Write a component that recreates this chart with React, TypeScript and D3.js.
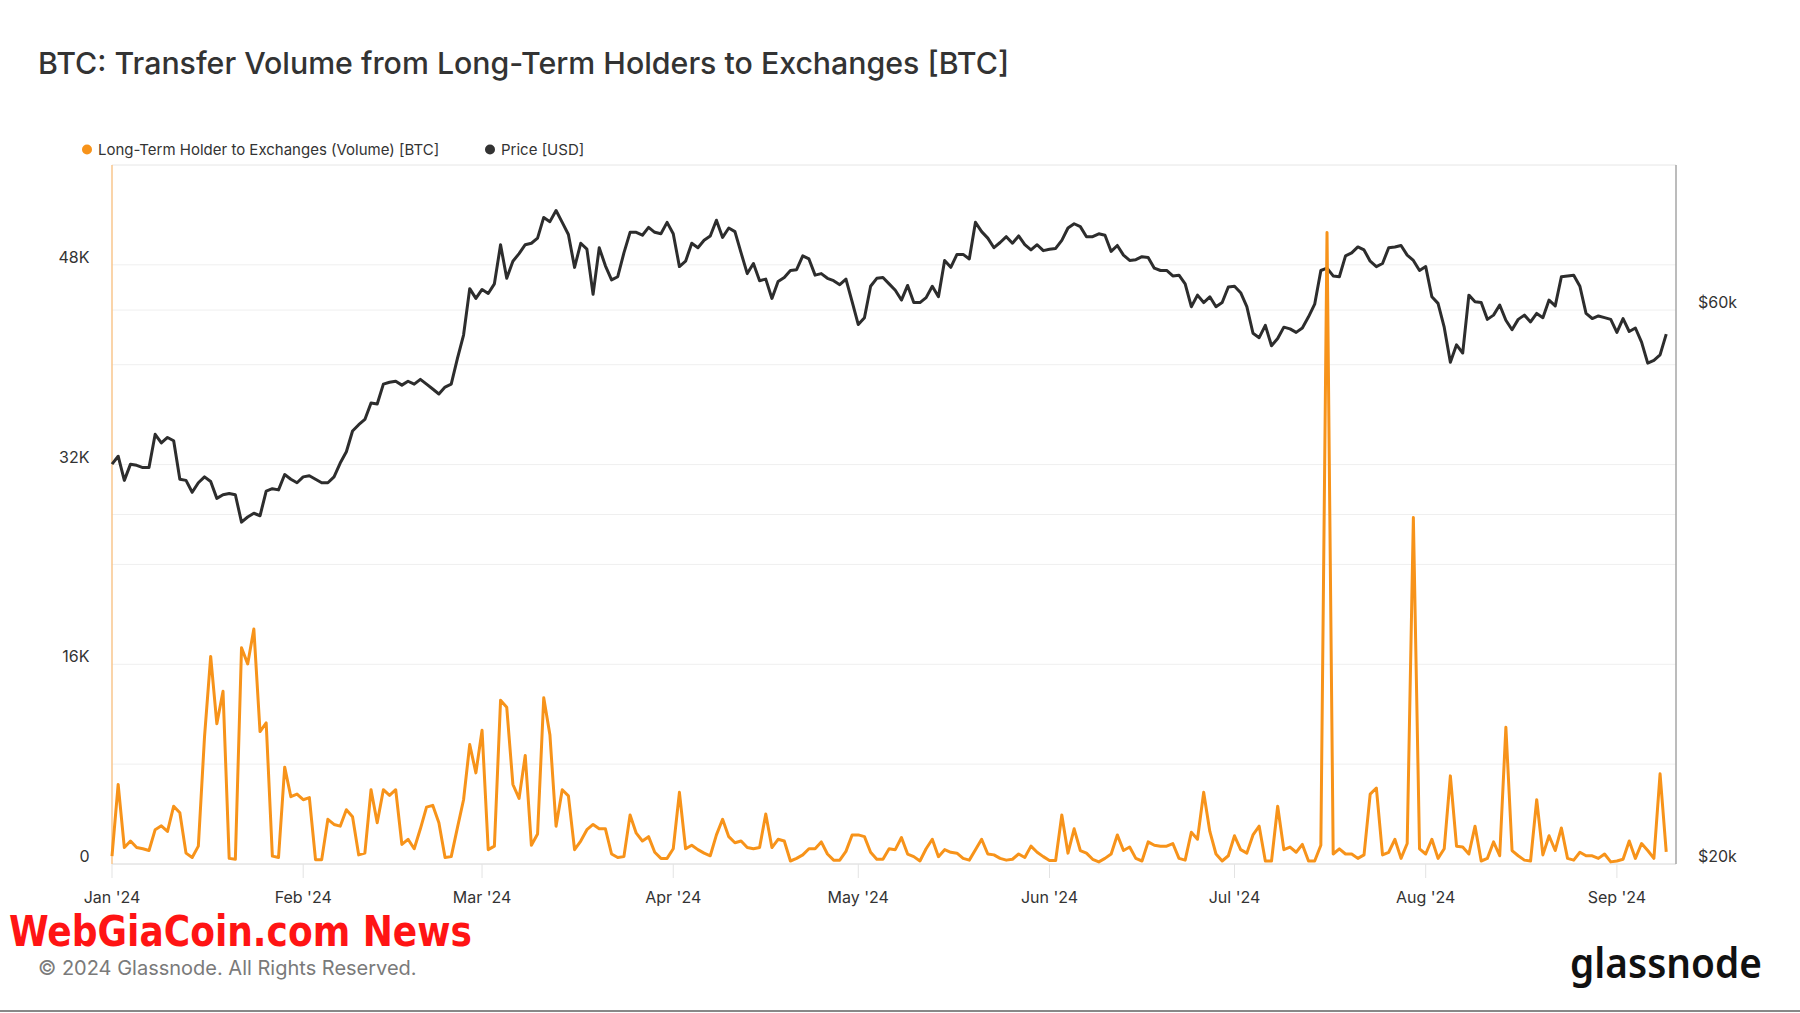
import React from "react";
import * as d3 from "d3";

// daily series, starting 2024-01-01
const startDate = Date.UTC(2024, 0, 1);

const volumeBTC = [
  630, 6370, 1320, 1840, 1320, 1220, 1080, 2750, 3060, 2610,
  4630, 4100, 870, 520, 1430, 10190, 16630, 11230, 13840, 450,
  380, 17320, 16030, 18820, 10610, 11300, 630, 520, 7760, 5390,
  5600, 5150, 5320, 350, 350, 3580, 3170, 3030, 4350, 3790,
  730, 870, 5950, 3300, 5950, 5500, 5950, 1570, 1980, 1220,
  2820, 4560, 4700, 3300, 520, 590, 2890, 5150, 9570, 7300,
  10710, 1150, 1430, 13110, 12560, 6370, 5250, 8700, 1500, 2400,
  13320, 10360, 3030, 5950, 5460, 1150, 1840, 2750, 3170, 2820,
  2820, 800, 520, 590, 3930, 2470, 1840, 2190, 940, 450,
  450, 1220, 5740, 1220, 1500, 1150, 870, 660, 2330, 3580,
  2190, 1700, 1840, 1320, 1220, 1320, 4000, 1320, 1980, 1840,
  240, 450, 730, 1220, 1220, 1770, 800, 310, 310, 1010,
  2330, 2330, 2190, 940, 380, 380, 1220, 1150, 2120, 800,
  590, 240, 1220, 1980, 590, 1150, 940, 870, 450, 310,
  1150, 1980, 800, 730, 450, 310, 380, 800, 520, 1430,
  940, 590, 280, 280, 3930, 870, 2820, 1080, 870, 380,
  170, 450, 800, 2330, 1080, 1360, 450, 240, 1770, 1500,
  1430, 1430, 1640, 450, 310, 2540, 1980, 5740, 2610, 800,
  240, 660, 2260, 1150, 870, 2330, 3030, 240, 240, 4630,
  1150, 1360, 940, 1570, 240, 240, 1500, 50600, 800, 1220,
  800, 800, 450, 730, 5600, 6090, 730, 940, 1980, 450,
  1640, 27750, 1220, 800, 1980, 450, 1220, 7060, 1430, 1360,
  800, 3030, 240, 450, 1770, 660, 10950, 1080, 660, 310,
  240, 5150, 730, 2260, 1080, 2890, 450, 310, 940, 660,
  660, 450, 800, 170, 240, 380, 1840, 450, 1640, 1080,
  450, 7230, 970,
];

const priceUSD = [
  44200, 44900, 42800, 44200, 44100, 43900, 43900, 46900, 46100, 46600,
  46300, 42900, 42800, 41800, 42600, 43100, 42700, 41300, 41600, 41700,
  41600, 39400, 39800, 40100, 39900, 41900, 42100, 42000, 43300, 42900,
  42600, 43100, 43200, 42900, 42600, 42600, 43100, 44300, 45300, 47200,
  47800, 48300, 49900, 49800, 51800, 52000, 52100, 51700, 52100, 51800,
  52300, 51800, 51300, 50800, 51500, 51800, 54500, 57100, 62600, 61400,
  62500, 62000, 63200, 68300, 63900, 66100, 67100, 68300, 68500, 69200,
  72100, 71500, 73100, 71400, 69700, 65300, 68500, 67700, 61900, 67900,
  65500, 63700, 64100, 67200, 70000, 70000, 69600, 70700, 70000, 69800,
  71400, 69800, 65400, 66100, 68500, 67900, 68900, 69500, 71700, 69300,
  70600, 70100, 67200, 64500, 65800, 63600, 63800, 61400, 63500, 64000,
  64900, 65000, 66800, 66400, 64300, 64500, 63900, 63600, 63100, 63800,
  61000, 58300, 59100, 62900, 63900, 64000, 63200, 62400, 61200, 63000,
  60900, 60900, 61500, 62900, 61600, 66200, 65300, 67000, 67000, 66400,
  71400, 70100, 69200, 67900, 68600, 69400, 68500, 69500, 68300, 67600,
  68300, 67500, 67700, 67800, 68900, 70600, 71200, 70800, 69400, 69400,
  69800, 69600, 67400, 68200, 66900, 66200, 66300, 66700, 66600, 65200,
  64900, 64900, 64200, 64300, 63200, 60400, 61800, 60900, 61600, 60400,
  60900, 62800, 62900, 62100, 60400, 57300, 56800, 58200, 55900, 56700,
  58000, 57800, 57400, 57900, 59200, 60700, 64900, 65200, 64200, 64100,
  66800, 67200, 68000, 67600, 66100, 65400, 65800, 67900, 68000, 68200,
  66900, 66200, 64900, 65400, 61600, 60800, 58000, 54100, 56000, 55100,
  61800, 61000, 60900, 58900, 59400, 60600, 58800, 57700, 58900, 59400,
  58600, 59600, 59100, 61200, 60500, 64100, 64200, 64300, 62900, 59600,
  59000, 59300, 59100, 58900, 57400, 59000, 57500, 57900, 56300, 54000,
  54300, 54900, 57200,
];

const volumeGrid = [8000, 16000, 24000, 32000, 40000, 48000];
const volumeLabels = [0, 16000, 32000, 48000];
const priceGrid = [40000, 60000];
const priceLabels = [20000, 60000];

const FONT = "Inter, 'Noto Sans', sans-serif";

export default function App() {
  const W = 1800;
  const H = 1013;
  const left = 112;
  const right = 1676;
  const top = 165;
  const bottom = 864;

  const dates = volumeBTC.map((_, i) => new Date(startDate + i * 86400000));

  const x = d3
    .scaleUtc()
    .domain([new Date(startDate), new Date(Date.UTC(2024, 8, 10, 14))])
    .range([left, right]);
  const yVol = d3.scaleLinear().domain([0, 56000]).range([bottom, top]);
  const yPrice = d3.scaleLog().domain([20000, 80000]).range([bottom, top]);

  const months = d3.utcMonths(new Date(startDate), new Date(Date.UTC(2024, 8, 2)));
  const monthFmt = d3.utcFormat("%b '%y");

  const volLine = d3
    .line<number>()
    .x((_, i) => x(dates[i]))
    .y((d) => yVol(d));
  const priceLine = d3
    .line<number>()
    .x((_, i) => x(dates[i]))
    .y((d) => yPrice(d));

  const kFmt = (v: number) => (v === 0 ? "0" : v / 1000 + "K");

  return (
    <div style={{ position: "absolute", left: 0, top: 0 }}>
      <svg width={W} height={H} style={{ display: "block", background: "#fff" }}>
        <text x={38} y={74} fontFamily={FONT} fontSize={30.3} fontWeight={500} fill="#333">
          BTC: Transfer Volume from Long-Term Holders to Exchanges [BTC]
        </text>

        {/* legend */}
        <circle cx={87} cy={149.5} r={5} fill="#f7931a" />
        <text x={98} y={155} fontFamily={FONT} fontSize={15} fill="#333">
          Long-Term Holder to Exchanges (Volume) [BTC]
        </text>
        <circle cx={490} cy={149.5} r={5} fill="#333" />
        <text x={501} y={155} fontFamily={FONT} fontSize={15} fill="#333">
          Price [USD]
        </text>

        {/* grid */}
        {volumeGrid.map((v) => (
          <line key={"gv" + v} x1={left} x2={right} y1={yVol(v)} y2={yVol(v)} stroke="#efefef" strokeWidth={1} />
        ))}
        {priceGrid.map((v) => (
          <line key={"gp" + v} x1={left} x2={right} y1={yPrice(v)} y2={yPrice(v)} stroke="#efefef" strokeWidth={1} />
        ))}
        <line x1={left} x2={right} y1={top} y2={top} stroke="#e6e6e6" />
        <line x1={left} x2={right} y1={bottom} y2={bottom} stroke="#d6d6d6" />

        {/* x axis */}
        {months.map((m) => (
          <g key={m.toISOString()}>
            <line x1={x(m)} x2={x(m)} y1={bottom} y2={bottom + 14} stroke="#e3e3e3" />
            <text x={x(m)} y={903} textAnchor="middle" fontFamily={FONT} fontSize={16} fill="#333">
              {monthFmt(m)}
            </text>
          </g>
        ))}

        {/* left axis */}
        <line x1={left} x2={left} y1={top} y2={bottom} stroke="#f9c68c" strokeWidth={1.5} />
        {volumeLabels.map((v) => (
          <text key={"lv" + v} x={89.5} y={yVol(v) - 2} textAnchor="end" fontFamily={FONT} fontSize={16} fill="#333">
            {kFmt(v)}
          </text>
        ))}

        {/* right axis */}
        <line x1={right} x2={right} y1={top} y2={bottom} stroke="#a6a6a6" strokeWidth={1.5} />
        {priceLabels.map((v) => (
          <text key={"rp" + v} x={1698} y={yPrice(v) - 2} fontFamily={FONT} fontSize={16} fill="#333">
            {"$" + v / 1000 + "k"}
          </text>
        ))}

        <path d={priceLine(priceUSD) || ""} fill="none" stroke="#2d2d2d" strokeWidth={3} strokeLinejoin="round" />
        <path d={volLine(volumeBTC) || ""} fill="none" stroke="#f7931a" strokeWidth={3} strokeLinejoin="round" />

        {/* footer */}
        <text
          x={9}
          y={946}
          fontFamily="'Liberation Sans Narrow', 'DejaVu Sans Condensed', sans-serif"
          fontWeight={700}
          fontSize={43}
          fill="#ff1414"
          textLength={463}
          lengthAdjust="spacingAndGlyphs"
        >
          WebGiaCoin.com News
        </text>
        <text x={38} y={975} fontFamily={FONT} fontSize={20} fill="#7a7a7a">
          © 2024 Glassnode. All Rights Reserved.
        </text>
        <text
          x={1570}
          y={978}
          fontFamily="'Noto Sans', sans-serif"
          fontSize={42}
          fontWeight={600}
          fill="#111"
          textLength={192}
          lengthAdjust="spacingAndGlyphs"
        >
          glassnode
        </text>
        <line x1={0} x2={W} y1={1011} y2={1011} stroke="#888" strokeWidth={2} />
      </svg>
    </div>
  );
}
